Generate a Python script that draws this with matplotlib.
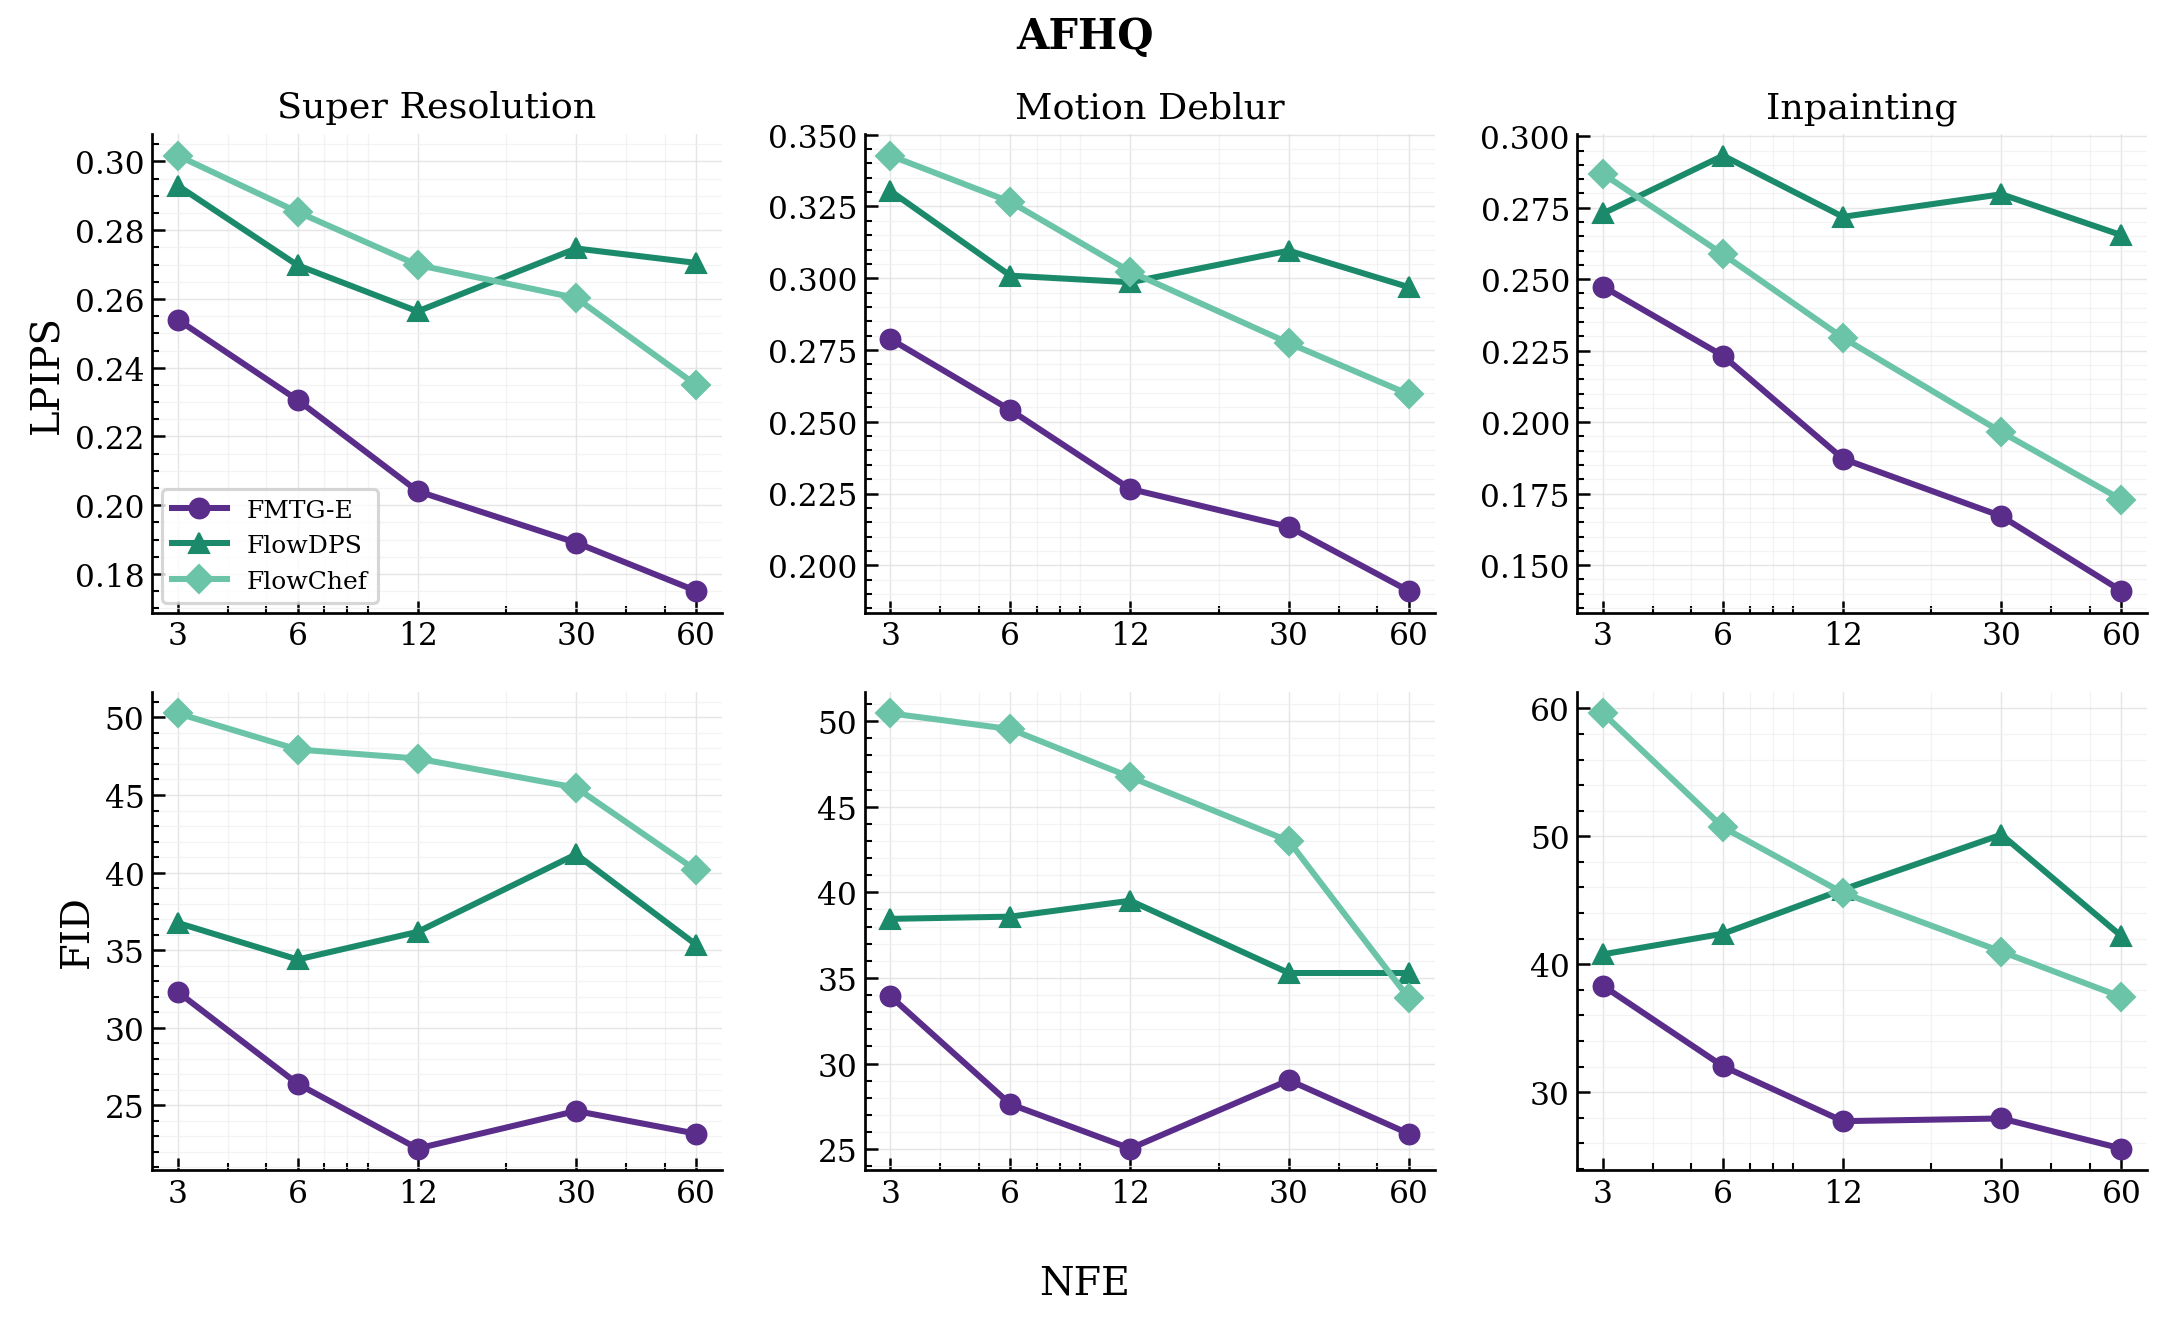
import numpy as np
import matplotlib
matplotlib.use("Agg")
from matplotlib import pyplot as plt
from matplotlib.ticker import AutoMinorLocator, NullFormatter, MultipleLocator

plt.rcParams['font.family'] = 'DejaVu Serif'
plt.rcParams['mathtext.fontset'] = 'dejavuserif'

nfe = [3, 6, 12, 30, 60]
tasks = ["Super Resolution", "Motion Deblur", "Inpainting"]
methods = ["FMTG-E", "FlowDPS", "FlowChef"]
colors = ["#5a2d8a", "#1b8a6b", "#6cc4a8"]
markers = ["o", "^", "D"]

# LPIPS per task, per method
lpips_sr = [[0.254, 0.2306, 0.2041, 0.1891, 0.1751],
            [0.293, 0.2698, 0.2564, 0.2747, 0.2705],
            [0.3017, 0.2853, 0.2699, 0.2603, 0.235]]
lpips_md = [[0.2788, 0.2541, 0.2266, 0.2134, 0.1911],
            [0.3304, 0.3009, 0.2986, 0.3096, 0.2969],
            [0.3427, 0.3266, 0.3023, 0.2774, 0.2596]]
lpips_inp = [[0.2474, 0.2232, 0.1872, 0.1671, 0.141],
             [0.273, 0.2932, 0.2718, 0.2797, 0.2654],
             [0.2868, 0.2587, 0.2295, 0.1965, 0.1729]]

# FID per task, per method
fid_sr = [[32.31, 26.39, 22.22, 24.64, 23.18],
          [36.76, 34.4, 36.18, 41.18, 35.36],
          [50.26, 47.93, 47.35, 45.47, 40.15]]
fid_md = [[33.93, 27.63, 25.04, 29.03, 25.91],
          [38.45, 38.58, 39.51, 35.29, 35.29],
          [50.45, 49.53, 46.73, 43.0, 33.83]]
fid_inp = [[38.31, 32.03, 27.74, 27.95, 25.6],
           [40.78, 42.39, 45.84, 50.13, 42.2],
           [59.61, 50.7, 45.58, 40.99, 37.45]]

rows = [[lpips_sr, lpips_md, lpips_inp], [fid_sr, fid_md, fid_inp]]
ylabels = ["LPIPS", "FID"]

fig, axes = plt.subplots(2, 3, figsize=(14.46, 8.813), dpi=150)
fig.subplots_adjust(left=0.070, right=0.990, top=0.898, bottom=0.114,
                    wspace=0.25, hspace=0.165)

for r in range(2):
    for c in range(3):
        ax = axes[r, c]
        data = rows[r][c]
        for m in range(3):
            ax.plot(nfe, data[m], color=colors[m], marker=markers[m],
                    linewidth=2.9, markersize=9.5, label=methods[m])
        ax.set_xscale('log')
        ax.set_xticks(nfe)
        ax.set_xticklabels([str(v) for v in nfe])
        ax.xaxis.set_minor_formatter(NullFormatter())
        if r == 1 and c == 2:
            ax.yaxis.set_major_locator(MultipleLocator(10))
        ax.yaxis.set_minor_locator(AutoMinorLocator())
        ax.tick_params(which='both', direction='in', labelsize=15)
        ax.tick_params(which='major', length=6, width=1.2)
        ax.tick_params(which='minor', length=3.5, width=1.0)
        ax.spines['top'].set_visible(False)
        ax.spines['right'].set_visible(False)
        ax.spines['left'].set_linewidth(1.3)
        ax.spines['bottom'].set_linewidth(1.3)
        ax.grid(which='major', color='#e0e0e0', linewidth=0.7, alpha=0.8)
        ax.grid(which='minor', color='#f0f0f0', linewidth=0.6, alpha=0.8)
        ax.set_axisbelow(True)
        if r == 0:
            ax.set_title(tasks[c], fontsize=17.5, pad=8)
        if c == 0:
            ax.set_ylabel(ylabels[r], fontsize=18.5)

leg = axes[0, 0].legend(loc='lower left', fontsize=12, frameon=True,
                        edgecolor='#cccccc', handlelength=2.2,
                        borderaxespad=0.4)
leg.get_frame().set_linewidth(1.5)

fig.suptitle("AFHQ", fontsize=20, fontweight='bold', y=0.988)
fig.supxlabel("NFE", fontsize=19, y=0.015)

plt.savefig("out.png", dpi=150)
